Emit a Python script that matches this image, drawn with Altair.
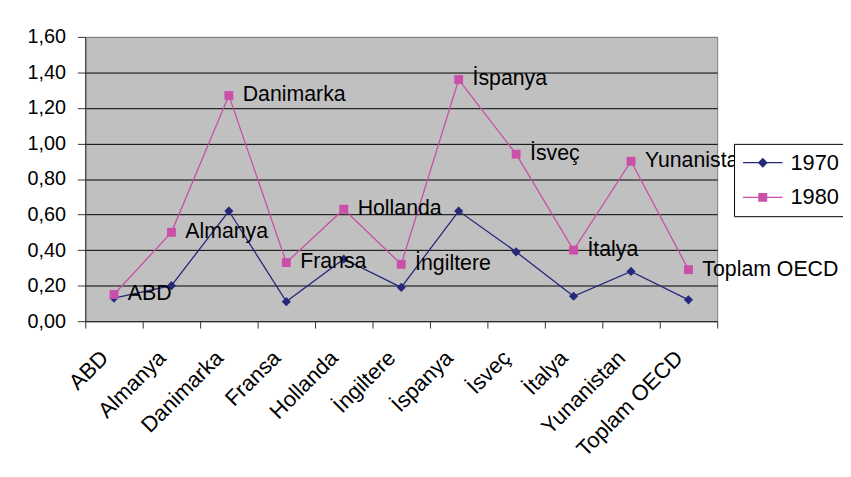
import altair as alt
import pandas as pd

# --- data ---
ulkeler = ["ABD", "Almanya", "Danimarka", "Fransa", "Hollanda", "İngiltere",
           "İspanya", "İsveç", "İtalya", "Yunanistan", "Toplam OECD"]
v1970 = [0.13, 0.20, 0.62, 0.11, 0.35, 0.19, 0.62, 0.39, 0.14, 0.28, 0.12]
v1980 = [0.15, 0.50, 1.27, 0.33, 0.63, 0.32, 1.36, 0.94, 0.40, 0.90, 0.29]
seriler = ["1970", "1980"]
renkler = ["#26287A", "#C94FA8"]
y_ticks = [0.0, 0.2, 0.4, 0.6, 0.8, 1.0, 1.2, 1.4, 1.6]

FONT = "Liberation Sans"

df = pd.DataFrame({
    "ulke": ulkeler * 2,
    "deger": v1970 + v1980,
    "seri": [seriler[0]] * len(ulkeler) + [seriler[1]] * len(ulkeler),
})

x_enc = alt.X(
    "ulke:N", sort=ulkeler,
    scale=alt.Scale(type="band", paddingInner=0, paddingOuter=0),
    axis=alt.Axis(title=None, labelAngle=-45, labelAlign="right", labelBaseline="top",
                  tickBand="extent", tickSize=7, labelPadding=19, labelOffset=-17,
                  labelFontSize=22, labelFont=FONT, labelColor="black",
                  domainColor="#333333", tickColor="#333333", grid=False),
)
y_enc = alt.Y(
    "deger:Q",
    scale=alt.Scale(domain=[0, 1.6], nice=False, zero=True),
    axis=alt.Axis(title=None, values=y_ticks,
                  labelExpr="replace(format(datum.value, '.2f'), '.', ',')",
                  tickSize=8, labelPadding=12, labelFontSize=20, labelFont=FONT,
                  labelColor="black", domainColor="#333333", tickColor="#333333",
                  grid=True,
                  gridColor={"condition": {"test": "datum.value >= 1.6", "value": "#808080"},
                             "value": "black"},
                  gridWidth=1),
)

base = alt.Chart(df).encode(x=x_enc, y=y_enc)

f70 = alt.datum.seri == seriler[0]
f80 = alt.datum.seri == seriler[1]

line70 = base.transform_filter(f70).mark_line(color=renkler[0], strokeWidth=1.3)
line80 = base.transform_filter(f80).mark_line(color=renkler[1], strokeWidth=1.3)
pts70 = base.transform_filter(f70).mark_point(shape="diamond", filled=True, size=85,
                                              color=renkler[0], opacity=1)
pts80 = base.transform_filter(f80).mark_point(shape="square", filled=True, size=80,
                                              color=renkler[1], opacity=1)
labels80 = base.transform_filter(f80).mark_text(
    align="left", baseline="middle", dx=14, fontSize=21.5, font=FONT, color="black"
).encode(text="ulke:N")

# legend symbols: a line with the series marker on it
path70 = "M-2,-0.065H2V0.065H-2Z M0,-0.5L0.5,0L0,0.5L-0.5,0Z"
path80 = "M-2,-0.065H2V0.065H-2Z M-0.45,-0.45H0.45V0.45H-0.45Z"

leg = alt.Legend(title=None, orient="none", legendX=655, legendY=108, direction="vertical",
                 fillColor="white", strokeColor="black", padding=8,
                 symbolSize=400, symbolOffset=10, labelOffset=17, rowPadding=13,
                 labelFontSize=22, labelFont=FONT, labelColor="black",
                 symbolStrokeWidth=0, symbolOpacity=1)

legend_layer = base.mark_point(filled=True, opacity=0).encode(
    color=alt.Color("seri:N", scale=alt.Scale(domain=seriler, range=renkler), legend=leg),
    shape=alt.Shape("seri:N", scale=alt.Scale(domain=seriler, range=[path70, path80]), legend=leg),
)

chart = alt.layer(
    line70, line80, pts70, pts80, labels80, legend_layer
).properties(
    width=638, height=287,
    autosize=alt.AutoSizeParams(type="none"),
    padding={"left": 78, "top": 27, "right": 127, "bottom": 140},
).configure_view(
    fill="#C0C0C0", stroke="#808080", strokeWidth=1
)

chart.save("out.html", embed_options={"renderer": "svg", "actions": False})
